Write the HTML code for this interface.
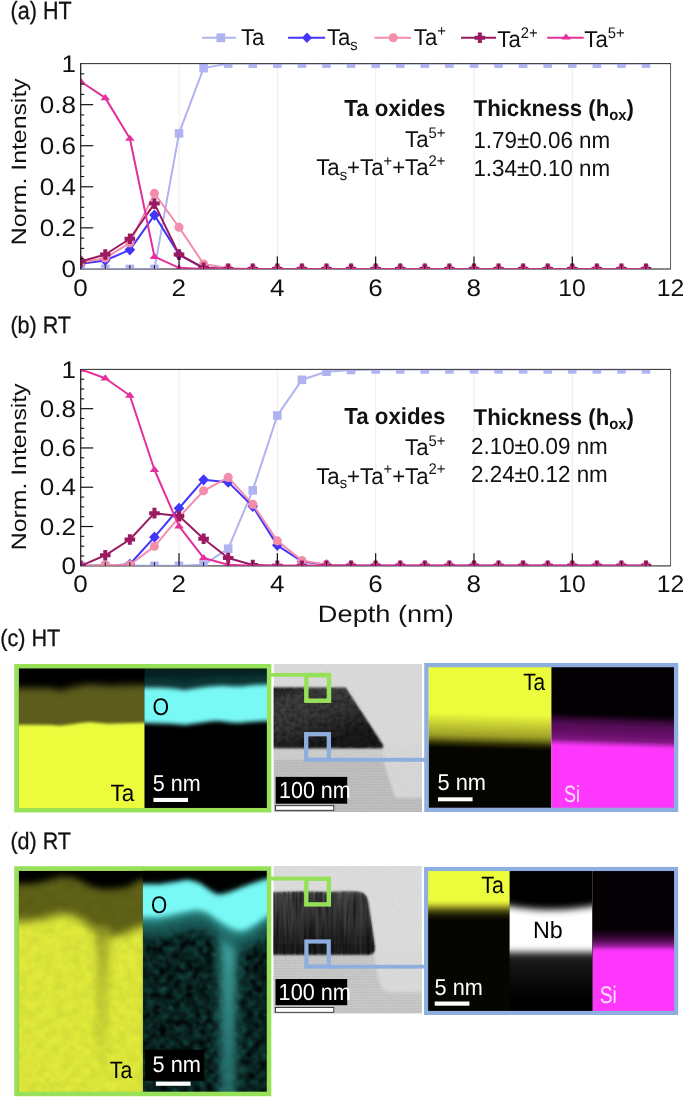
<!DOCTYPE html>
<html><head><meta charset="utf-8"><title>figure</title>
<style>
html,body{margin:0;padding:0;background:#fff;}
body{width:685px;height:1098px;overflow:hidden;}
svg{display:block;font-family:"Liberation Sans", sans-serif;will-change:transform;transform:translateZ(0);}
text{text-rendering:geometricPrecision;}
</style></head><body>
<svg width="685" height="1098" viewBox="0 0 685 1098">
<rect width="685" height="1098" fill="#fff"/>

<defs>
<filter id="b1" x="-60%" y="-60%" width="220%" height="220%"><feGaussianBlur stdDeviation="1.3"/></filter>
<filter id="b2" x="-60%" y="-60%" width="220%" height="220%"><feGaussianBlur stdDeviation="2.2"/></filter>
<filter id="b3" x="-60%" y="-60%" width="220%" height="220%"><feGaussianBlur stdDeviation="3.5"/></filter>
<filter id="b15" x="-60%" y="-60%" width="220%" height="220%"><feGaussianBlur stdDeviation="1.7"/></filter>
<filter id="b5" x="-60%" y="-60%" width="220%" height="220%"><feGaussianBlur stdDeviation="5"/></filter>
<filter id="b25" x="-60%" y="-60%" width="220%" height="220%"><feGaussianBlur stdDeviation="2.8"/></filter>
<filter id="b05" x="-60%" y="-60%" width="220%" height="220%"><feGaussianBlur stdDeviation="0.7"/></filter>
<clipPath id="cL1"><rect x="18.5" y="668.0" width="125.9" height="140.20000000000005"/></clipPath>
<clipPath id="cL2"><rect x="144.4" y="668.0" width="122.70000000000002" height="140.20000000000005"/></clipPath>
<clipPath id="cT1"><rect x="273.6" y="664.0" width="148.39999999999998" height="148.14999999999998"/></clipPath>
<filter id="nz1" x="0" y="0" width="100%" height="100%"><feTurbulence type="fractalNoise" baseFrequency="0.9" numOctaves="2" seed="3"/><feColorMatrix type="matrix" values="0 0 0 0 0  0 0 0 0 0  0 0 0 0 0  0.9 0 0 0 -0.3"/></filter>
<filter id="nz2" x="0" y="0" width="100%" height="100%"><feTurbulence type="fractalNoise" baseFrequency="0.22" numOctaves="3" seed="8"/><feColorMatrix type="matrix" values="0 0 0 0 0  0 0 0 0 0  0 0 0 0 0  1.6 0 0 0 -0.55"/><feComposite operator="in" in2="SourceGraphic"/></filter>
<pattern id="hl" width="4" height="1.6" patternUnits="userSpaceOnUse"><rect width="4" height="0.6" fill="#000" opacity="0.055"/></pattern>
<linearGradient id="gF1" gradientUnits="userSpaceOnUse" x1="300" y1="687" x2="320" y2="748"><stop offset="0" stop-color="#2c2c2c"/><stop offset="0.12" stop-color="#444"/><stop offset="0.5" stop-color="#3a3a3a"/><stop offset="0.8" stop-color="#262626"/><stop offset="1" stop-color="#1a1a1a"/></linearGradient>
<linearGradient id="gTa1" gradientUnits="userSpaceOnUse" x1="490.5" y1="714" x2="489.6" y2="750"><stop offset="0" stop-color="#ecfc3c"/><stop offset="0.17" stop-color="#d8e237"/><stop offset="0.33" stop-color="#c2c931"/><stop offset="0.47" stop-color="#b2b62c"/><stop offset="0.61" stop-color="#9c9e26"/><stop offset="0.72" stop-color="#6e7018"/><stop offset="0.83" stop-color="#343408"/><stop offset="0.94" stop-color="#0c0c00"/><stop offset="1" stop-color="#040400"/></linearGradient>
<linearGradient id="gSi1" gradientUnits="userSpaceOnUse" x1="612.6" y1="714" x2="611.5" y2="748"><stop offset="0" stop-color="#020002"/><stop offset="0.1" stop-color="#180318"/><stop offset="0.22" stop-color="#3c083e"/><stop offset="0.35" stop-color="#540c56"/><stop offset="0.6" stop-color="#660f68"/><stop offset="0.78" stop-color="#7e187f"/><stop offset="0.88" stop-color="#c42ac6"/><stop offset="0.96" stop-color="#f434f2"/><stop offset="1" stop-color="#ff36fb"/></linearGradient>
<clipPath id="dL1"><rect x="18.5" y="870.6" width="124.4" height="221.60000000000002"/></clipPath>
<clipPath id="dL2"><rect x="142.9" y="870.6" width="124.20000000000002" height="221.60000000000002"/></clipPath>
<filter id="nzY" x="0" y="0" width="100%" height="100%"><feTurbulence type="fractalNoise" baseFrequency="0.11" numOctaves="2" seed="11"/><feColorMatrix type="matrix" values="0 0 0 0 0  0 0 0 0 0  0 0 0 0 0  1.0 0 0 0 -0.3"/><feComposite operator="in" in2="SourceGraphic"/></filter>
<filter id="nzC" x="0" y="0" width="100%" height="100%"><feTurbulence type="fractalNoise" baseFrequency="0.15" numOctaves="3" seed="21"/><feColorMatrix type="matrix" values="0 0 0 0 0  0 0 0 0 0  0 0 0 0 0  1.5 0 0 0 -0.16"/><feGaussianBlur stdDeviation="0.9"/><feComposite operator="in" in2="SourceGraphic"/></filter>
<linearGradient id="gStk" gradientUnits="userSpaceOnUse" x1="0" y1="925" x2="0" y2="1080"><stop offset="0" stop-color="#8d9224" stop-opacity="0.85"/><stop offset="0.25" stop-color="#a8ae2a" stop-opacity="0.7"/><stop offset="0.7" stop-color="#b8c02e" stop-opacity="0.5"/><stop offset="1" stop-color="#bcc430" stop-opacity="0"/></linearGradient>
<linearGradient id="gCs" gradientUnits="userSpaceOnUse" x1="0" y1="925" x2="0" y2="1090"><stop offset="0" stop-color="#4ab8b4" stop-opacity="0.95"/><stop offset="0.25" stop-color="#3a9c98" stop-opacity="0.9"/><stop offset="1" stop-color="#2b7a78" stop-opacity="0.7"/></linearGradient>
<clipPath id="dT1"><rect x="273.4" y="865.9" width="148.5" height="147.70000000000005"/></clipPath>
<filter id="nzV" x="0" y="0" width="100%" height="100%"><feTurbulence type="fractalNoise" baseFrequency="0.35 0.02" numOctaves="2" seed="5"/><feColorMatrix type="matrix" values="0 0 0 0 1  0 0 0 0 1  0 0 0 0 1  1.8 0 0 0 -0.75"/><feComposite operator="in" in2="SourceGraphic"/></filter>
<linearGradient id="gF2" gradientUnits="userSpaceOnUse" x1="0" y1="891" x2="0" y2="955"><stop offset="0" stop-color="#505050"/><stop offset="0.1" stop-color="#444"/><stop offset="0.45" stop-color="#343434"/><stop offset="0.75" stop-color="#222"/><stop offset="1" stop-color="#1a1a1a"/></linearGradient>
<filter id="nzV2" x="0" y="0" width="100%" height="100%"><feTurbulence type="fractalNoise" baseFrequency="0.3 0.025" numOctaves="2" seed="9"/><feColorMatrix type="matrix" values="0 0 0 0 0  0 0 0 0 0  0 0 0 0 0  2.2 0 0 0 -0.85"/><feComposite operator="in" in2="SourceGraphic"/></filter>
<linearGradient id="gTa2" gradientUnits="userSpaceOnUse" x1="0" y1="900" x2="0" y2="920"><stop offset="0" stop-color="#ecfc3c"/><stop offset="0.15" stop-color="#dde438"/><stop offset="0.35" stop-color="#9a9c26"/><stop offset="0.55" stop-color="#505010"/><stop offset="0.78" stop-color="#1a1a04"/><stop offset="1" stop-color="#060600"/></linearGradient>
<linearGradient id="gSi2" gradientUnits="userSpaceOnUse" x1="0" y1="929" x2="0" y2="952"><stop offset="0" stop-color="#040004"/><stop offset="0.2" stop-color="#1c031c"/><stop offset="0.42" stop-color="#42093f"/><stop offset="0.62" stop-color="#6e1470"/><stop offset="0.78" stop-color="#a822aa"/><stop offset="0.9" stop-color="#e832ea"/><stop offset="1" stop-color="#ff36fb"/></linearGradient>
<clipPath id="dR2"><rect x="509.6" y="870.8" width="82.79999999999995" height="140.4000000000001"/></clipPath>
<linearGradient id="gNbf" gradientUnits="userSpaceOnUse" x1="0" y1="950" x2="0" y2="1000"><stop offset="0" stop-color="#2c2c2c"/><stop offset="0.25" stop-color="#171717"/><stop offset="0.6" stop-color="#0b0b0b"/><stop offset="1" stop-color="#000"/></linearGradient>
</defs>
<g id="plot1">
<line x1="179.02" y1="63.6" x2="179.02" y2="268.9" stroke="#e6e6e6" stroke-width="0.8"/>
<line x1="277.33" y1="63.6" x2="277.33" y2="268.9" stroke="#e6e6e6" stroke-width="0.8"/>
<line x1="375.65" y1="63.6" x2="375.65" y2="268.9" stroke="#e6e6e6" stroke-width="0.8"/>
<line x1="473.97" y1="63.6" x2="473.97" y2="268.9" stroke="#e6e6e6" stroke-width="0.8"/>
<line x1="572.28" y1="63.6" x2="572.28" y2="268.9" stroke="#e6e6e6" stroke-width="0.8"/>
<rect x="80.7" y="63.6" width="589.90" height="205.30" fill="none" stroke="#4a4a4a" stroke-width="0.9"/>
<clipPath id="cp1"><rect x="80.7" y="63.6" width="589.90" height="205.45"/></clipPath>
<g clip-path="url(#cp1)">
<polyline points="80.70,268.90 105.28,268.90 129.86,268.90 154.44,268.90 179.02,133.40 203.60,68.12 228.18,63.60 252.75,63.60 277.33,63.60 301.91,63.60 326.49,63.60 351.07,63.60 375.65,63.60 400.23,63.60 424.81,63.60 449.39,63.60 473.97,63.60 498.55,63.60 523.12,63.60 547.70,63.60 572.28,63.60 596.86,63.60 621.44,63.60 646.02,63.60" fill="none" stroke="#b0b3f1" stroke-width="2" stroke-linejoin="round"/>
<rect x="76.40" y="264.60" width="8.60" height="8.60" fill="#b0b3f1"/>
<rect x="100.98" y="264.60" width="8.60" height="8.60" fill="#b0b3f1"/>
<rect x="125.56" y="264.60" width="8.60" height="8.60" fill="#b0b3f1"/>
<rect x="150.14" y="264.60" width="8.60" height="8.60" fill="#b0b3f1"/>
<rect x="174.72" y="129.10" width="8.60" height="8.60" fill="#b0b3f1"/>
<rect x="199.30" y="63.82" width="8.60" height="8.60" fill="#b0b3f1"/>
<rect x="223.88" y="59.30" width="8.60" height="8.60" fill="#b0b3f1"/>
<rect x="248.45" y="59.30" width="8.60" height="8.60" fill="#b0b3f1"/>
<rect x="273.03" y="59.30" width="8.60" height="8.60" fill="#b0b3f1"/>
<rect x="297.61" y="59.30" width="8.60" height="8.60" fill="#b0b3f1"/>
<rect x="322.19" y="59.30" width="8.60" height="8.60" fill="#b0b3f1"/>
<rect x="346.77" y="59.30" width="8.60" height="8.60" fill="#b0b3f1"/>
<rect x="371.35" y="59.30" width="8.60" height="8.60" fill="#b0b3f1"/>
<rect x="395.93" y="59.30" width="8.60" height="8.60" fill="#b0b3f1"/>
<rect x="420.51" y="59.30" width="8.60" height="8.60" fill="#b0b3f1"/>
<rect x="445.09" y="59.30" width="8.60" height="8.60" fill="#b0b3f1"/>
<rect x="469.67" y="59.30" width="8.60" height="8.60" fill="#b0b3f1"/>
<rect x="494.25" y="59.30" width="8.60" height="8.60" fill="#b0b3f1"/>
<rect x="518.83" y="59.30" width="8.60" height="8.60" fill="#b0b3f1"/>
<rect x="543.40" y="59.30" width="8.60" height="8.60" fill="#b0b3f1"/>
<rect x="567.98" y="59.30" width="8.60" height="8.60" fill="#b0b3f1"/>
<rect x="592.56" y="59.30" width="8.60" height="8.60" fill="#b0b3f1"/>
<rect x="617.14" y="59.30" width="8.60" height="8.60" fill="#b0b3f1"/>
<rect x="641.72" y="59.30" width="8.60" height="8.60" fill="#b0b3f1"/>
<polyline points="80.70,263.77 105.28,260.48 129.86,249.81 154.44,215.11 179.02,254.53 203.60,268.08 228.18,268.90 252.75,268.90 277.33,268.90 301.91,268.90 326.49,268.90 351.07,268.90 375.65,268.90 400.23,268.90 424.81,268.90 449.39,268.90 473.97,268.90 498.55,268.90 523.12,268.90 547.70,268.90 572.28,268.90 596.86,268.90 621.44,268.90 646.02,268.90" fill="none" stroke="#4236fa" stroke-width="2" stroke-linejoin="round"/>
<path d="M75.40,263.77 L80.70,258.17 L86.00,263.77 L80.70,269.37Z" fill="#4236fa"/>
<path d="M99.98,260.48 L105.28,254.88 L110.58,260.48 L105.28,266.08Z" fill="#4236fa"/>
<path d="M124.56,249.81 L129.86,244.21 L135.16,249.81 L129.86,255.41Z" fill="#4236fa"/>
<path d="M149.14,215.11 L154.44,209.51 L159.74,215.11 L154.44,220.71Z" fill="#4236fa"/>
<path d="M173.72,254.53 L179.02,248.93 L184.32,254.53 L179.02,260.13Z" fill="#4236fa"/>
<path d="M198.30,268.08 L203.60,262.48 L208.90,268.08 L203.60,273.68Z" fill="#4236fa"/>
<path d="M222.88,268.90 L228.18,263.30 L233.48,268.90 L228.18,274.50Z" fill="#4236fa"/>
<path d="M247.45,268.90 L252.75,263.30 L258.05,268.90 L252.75,274.50Z" fill="#4236fa"/>
<path d="M272.03,268.90 L277.33,263.30 L282.63,268.90 L277.33,274.50Z" fill="#4236fa"/>
<path d="M296.61,268.90 L301.91,263.30 L307.21,268.90 L301.91,274.50Z" fill="#4236fa"/>
<path d="M321.19,268.90 L326.49,263.30 L331.79,268.90 L326.49,274.50Z" fill="#4236fa"/>
<path d="M345.77,268.90 L351.07,263.30 L356.37,268.90 L351.07,274.50Z" fill="#4236fa"/>
<path d="M370.35,268.90 L375.65,263.30 L380.95,268.90 L375.65,274.50Z" fill="#4236fa"/>
<path d="M394.93,268.90 L400.23,263.30 L405.53,268.90 L400.23,274.50Z" fill="#4236fa"/>
<path d="M419.51,268.90 L424.81,263.30 L430.11,268.90 L424.81,274.50Z" fill="#4236fa"/>
<path d="M444.09,268.90 L449.39,263.30 L454.69,268.90 L449.39,274.50Z" fill="#4236fa"/>
<path d="M468.67,268.90 L473.97,263.30 L479.27,268.90 L473.97,274.50Z" fill="#4236fa"/>
<path d="M493.25,268.90 L498.55,263.30 L503.85,268.90 L498.55,274.50Z" fill="#4236fa"/>
<path d="M517.83,268.90 L523.12,263.30 L528.42,268.90 L523.12,274.50Z" fill="#4236fa"/>
<path d="M542.40,268.90 L547.70,263.30 L553.00,268.90 L547.70,274.50Z" fill="#4236fa"/>
<path d="M566.98,268.90 L572.28,263.30 L577.58,268.90 L572.28,274.50Z" fill="#4236fa"/>
<path d="M591.56,268.90 L596.86,263.30 L602.16,268.90 L596.86,274.50Z" fill="#4236fa"/>
<path d="M616.14,268.90 L621.44,263.30 L626.74,268.90 L621.44,274.50Z" fill="#4236fa"/>
<path d="M640.72,268.90 L646.02,263.30 L651.32,268.90 L646.02,274.50Z" fill="#4236fa"/>
<polyline points="80.70,262.74 105.28,258.02 129.86,242.83 154.44,193.35 179.02,227.22 203.60,263.97 228.18,268.28 252.75,268.90 277.33,268.90 301.91,268.90 326.49,268.90 351.07,268.90 375.65,268.90 400.23,268.90 424.81,268.90 449.39,268.90 473.97,268.90 498.55,268.90 523.12,268.90 547.70,268.90 572.28,268.90 596.86,268.90 621.44,268.90 646.02,268.90" fill="none" stroke="#f28dab" stroke-width="2" stroke-linejoin="round"/>
<circle cx="80.70" cy="262.74" r="4.55" fill="#f28dab"/>
<circle cx="105.28" cy="258.02" r="4.55" fill="#f28dab"/>
<circle cx="129.86" cy="242.83" r="4.55" fill="#f28dab"/>
<circle cx="154.44" cy="193.35" r="4.55" fill="#f28dab"/>
<circle cx="179.02" cy="227.22" r="4.55" fill="#f28dab"/>
<circle cx="203.60" cy="263.97" r="4.55" fill="#f28dab"/>
<circle cx="228.18" cy="268.28" r="4.55" fill="#f28dab"/>
<circle cx="252.75" cy="268.90" r="4.55" fill="#f28dab"/>
<circle cx="277.33" cy="268.90" r="4.55" fill="#f28dab"/>
<circle cx="301.91" cy="268.90" r="4.55" fill="#f28dab"/>
<circle cx="326.49" cy="268.90" r="4.55" fill="#f28dab"/>
<circle cx="351.07" cy="268.90" r="4.55" fill="#f28dab"/>
<circle cx="375.65" cy="268.90" r="4.55" fill="#f28dab"/>
<circle cx="400.23" cy="268.90" r="4.55" fill="#f28dab"/>
<circle cx="424.81" cy="268.90" r="4.55" fill="#f28dab"/>
<circle cx="449.39" cy="268.90" r="4.55" fill="#f28dab"/>
<circle cx="473.97" cy="268.90" r="4.55" fill="#f28dab"/>
<circle cx="498.55" cy="268.90" r="4.55" fill="#f28dab"/>
<circle cx="523.12" cy="268.90" r="4.55" fill="#f28dab"/>
<circle cx="547.70" cy="268.90" r="4.55" fill="#f28dab"/>
<circle cx="572.28" cy="268.90" r="4.55" fill="#f28dab"/>
<circle cx="596.86" cy="268.90" r="4.55" fill="#f28dab"/>
<circle cx="621.44" cy="268.90" r="4.55" fill="#f28dab"/>
<circle cx="646.02" cy="268.90" r="4.55" fill="#f28dab"/>
<polyline points="80.70,261.51 105.28,254.53 129.86,238.72 154.44,203.61 179.02,254.53 203.60,267.87 228.18,268.90 252.75,268.90 277.33,268.90 301.91,268.90 326.49,268.90 351.07,268.90 375.65,268.90 400.23,268.90 424.81,268.90 449.39,268.90 473.97,268.90 498.55,268.90 523.12,268.90 547.70,268.90 572.28,268.90 596.86,268.90 621.44,268.90 646.02,268.90" fill="none" stroke="#9a1b62" stroke-width="2" stroke-linejoin="round"/>
<path d="M78.70,256.21h4.00v3.30h3.30v4.00h-3.30v3.30h-4.00v-3.30h-3.30v-4.00h3.30z" fill="#9a1b62"/>
<path d="M103.28,249.23h4.00v3.30h3.30v4.00h-3.30v3.30h-4.00v-3.30h-3.30v-4.00h3.30z" fill="#9a1b62"/>
<path d="M127.86,233.42h4.00v3.30h3.30v4.00h-3.30v3.30h-4.00v-3.30h-3.30v-4.00h3.30z" fill="#9a1b62"/>
<path d="M152.44,198.31h4.00v3.30h3.30v4.00h-3.30v3.30h-4.00v-3.30h-3.30v-4.00h3.30z" fill="#9a1b62"/>
<path d="M177.02,249.23h4.00v3.30h3.30v4.00h-3.30v3.30h-4.00v-3.30h-3.30v-4.00h3.30z" fill="#9a1b62"/>
<path d="M201.60,262.57h4.00v3.30h3.30v4.00h-3.30v3.30h-4.00v-3.30h-3.30v-4.00h3.30z" fill="#9a1b62"/>
<path d="M226.18,263.60h4.00v3.30h3.30v4.00h-3.30v3.30h-4.00v-3.30h-3.30v-4.00h3.30z" fill="#9a1b62"/>
<path d="M250.75,263.60h4.00v3.30h3.30v4.00h-3.30v3.30h-4.00v-3.30h-3.30v-4.00h3.30z" fill="#9a1b62"/>
<path d="M275.33,263.60h4.00v3.30h3.30v4.00h-3.30v3.30h-4.00v-3.30h-3.30v-4.00h3.30z" fill="#9a1b62"/>
<path d="M299.91,263.60h4.00v3.30h3.30v4.00h-3.30v3.30h-4.00v-3.30h-3.30v-4.00h3.30z" fill="#9a1b62"/>
<path d="M324.49,263.60h4.00v3.30h3.30v4.00h-3.30v3.30h-4.00v-3.30h-3.30v-4.00h3.30z" fill="#9a1b62"/>
<path d="M349.07,263.60h4.00v3.30h3.30v4.00h-3.30v3.30h-4.00v-3.30h-3.30v-4.00h3.30z" fill="#9a1b62"/>
<path d="M373.65,263.60h4.00v3.30h3.30v4.00h-3.30v3.30h-4.00v-3.30h-3.30v-4.00h3.30z" fill="#9a1b62"/>
<path d="M398.23,263.60h4.00v3.30h3.30v4.00h-3.30v3.30h-4.00v-3.30h-3.30v-4.00h3.30z" fill="#9a1b62"/>
<path d="M422.81,263.60h4.00v3.30h3.30v4.00h-3.30v3.30h-4.00v-3.30h-3.30v-4.00h3.30z" fill="#9a1b62"/>
<path d="M447.39,263.60h4.00v3.30h3.30v4.00h-3.30v3.30h-4.00v-3.30h-3.30v-4.00h3.30z" fill="#9a1b62"/>
<path d="M471.97,263.60h4.00v3.30h3.30v4.00h-3.30v3.30h-4.00v-3.30h-3.30v-4.00h3.30z" fill="#9a1b62"/>
<path d="M496.55,263.60h4.00v3.30h3.30v4.00h-3.30v3.30h-4.00v-3.30h-3.30v-4.00h3.30z" fill="#9a1b62"/>
<path d="M521.12,263.60h4.00v3.30h3.30v4.00h-3.30v3.30h-4.00v-3.30h-3.30v-4.00h3.30z" fill="#9a1b62"/>
<path d="M545.70,263.60h4.00v3.30h3.30v4.00h-3.30v3.30h-4.00v-3.30h-3.30v-4.00h3.30z" fill="#9a1b62"/>
<path d="M570.28,263.60h4.00v3.30h3.30v4.00h-3.30v3.30h-4.00v-3.30h-3.30v-4.00h3.30z" fill="#9a1b62"/>
<path d="M594.86,263.60h4.00v3.30h3.30v4.00h-3.30v3.30h-4.00v-3.30h-3.30v-4.00h3.30z" fill="#9a1b62"/>
<path d="M619.44,263.60h4.00v3.30h3.30v4.00h-3.30v3.30h-4.00v-3.30h-3.30v-4.00h3.30z" fill="#9a1b62"/>
<path d="M644.02,263.60h4.00v3.30h3.30v4.00h-3.30v3.30h-4.00v-3.30h-3.30v-4.00h3.30z" fill="#9a1b62"/>
<polyline points="80.70,81.46 105.28,97.89 129.86,138.53 154.44,256.58 179.02,267.87 203.60,268.90 228.18,268.90 252.75,268.90 277.33,268.90 301.91,268.90 326.49,268.90 351.07,268.90 375.65,268.90 400.23,268.90 424.81,268.90 449.39,268.90 473.97,268.90 498.55,268.90 523.12,268.90 547.70,268.90 572.28,268.90 596.86,268.90 621.44,268.90 646.02,268.90" fill="none" stroke="#e3309c" stroke-width="2" stroke-linejoin="round"/>
<path d="M75.90,83.76 L80.70,77.56 L85.50,83.76Z" fill="#e3309c"/>
<path d="M100.48,100.19 L105.28,93.99 L110.08,100.19Z" fill="#e3309c"/>
<path d="M125.06,140.83 L129.86,134.63 L134.66,140.83Z" fill="#e3309c"/>
<path d="M149.64,258.88 L154.44,252.68 L159.24,258.88Z" fill="#e3309c"/>
<path d="M174.22,270.17 L179.02,263.97 L183.82,270.17Z" fill="#e3309c"/>
<path d="M198.80,271.20 L203.60,265.00 L208.40,271.20Z" fill="#e3309c"/>
<path d="M223.38,271.20 L228.18,265.00 L232.98,271.20Z" fill="#e3309c"/>
<path d="M247.95,271.20 L252.75,265.00 L257.55,271.20Z" fill="#e3309c"/>
<path d="M272.53,271.20 L277.33,265.00 L282.13,271.20Z" fill="#e3309c"/>
<path d="M297.11,271.20 L301.91,265.00 L306.71,271.20Z" fill="#e3309c"/>
<path d="M321.69,271.20 L326.49,265.00 L331.29,271.20Z" fill="#e3309c"/>
<path d="M346.27,271.20 L351.07,265.00 L355.87,271.20Z" fill="#e3309c"/>
<path d="M370.85,271.20 L375.65,265.00 L380.45,271.20Z" fill="#e3309c"/>
<path d="M395.43,271.20 L400.23,265.00 L405.03,271.20Z" fill="#e3309c"/>
<path d="M420.01,271.20 L424.81,265.00 L429.61,271.20Z" fill="#e3309c"/>
<path d="M444.59,271.20 L449.39,265.00 L454.19,271.20Z" fill="#e3309c"/>
<path d="M469.17,271.20 L473.97,265.00 L478.77,271.20Z" fill="#e3309c"/>
<path d="M493.75,271.20 L498.55,265.00 L503.35,271.20Z" fill="#e3309c"/>
<path d="M518.33,271.20 L523.12,265.00 L527.92,271.20Z" fill="#e3309c"/>
<path d="M542.90,271.20 L547.70,265.00 L552.50,271.20Z" fill="#e3309c"/>
<path d="M567.48,271.20 L572.28,265.00 L577.08,271.20Z" fill="#e3309c"/>
<path d="M592.06,271.20 L596.86,265.00 L601.66,271.20Z" fill="#e3309c"/>
<path d="M616.64,271.20 L621.44,265.00 L626.24,271.20Z" fill="#e3309c"/>
<path d="M641.22,271.20 L646.02,265.00 L650.82,271.20Z" fill="#e3309c"/>
</g>
<line x1="80.7" y1="269.2" x2="670.6" y2="269.2" stroke="#505050" stroke-width="0.7"/>
<line x1="80.7" y1="63.6" x2="670.6" y2="63.6" stroke="#3c3c3c" stroke-width="0.95"/>
<line x1="80.7" y1="63.1" x2="80.7" y2="269.4" stroke="#222" stroke-width="1.1"/>
<line x1="80.7" y1="258.63" x2="84.2" y2="258.63" stroke="#111" stroke-width="1.1"/>
<line x1="80.7" y1="248.37" x2="84.2" y2="248.37" stroke="#111" stroke-width="1.1"/>
<line x1="80.7" y1="238.10" x2="84.2" y2="238.10" stroke="#111" stroke-width="1.1"/>
<line x1="80.7" y1="227.84" x2="93.2" y2="227.84" stroke="#111" stroke-width="1.2"/>
<line x1="80.7" y1="217.57" x2="84.2" y2="217.57" stroke="#111" stroke-width="1.1"/>
<line x1="80.7" y1="207.31" x2="84.2" y2="207.31" stroke="#111" stroke-width="1.1"/>
<line x1="80.7" y1="197.04" x2="84.2" y2="197.04" stroke="#111" stroke-width="1.1"/>
<line x1="80.7" y1="186.78" x2="93.2" y2="186.78" stroke="#111" stroke-width="1.2"/>
<line x1="80.7" y1="176.51" x2="84.2" y2="176.51" stroke="#111" stroke-width="1.1"/>
<line x1="80.7" y1="166.25" x2="84.2" y2="166.25" stroke="#111" stroke-width="1.1"/>
<line x1="80.7" y1="155.98" x2="84.2" y2="155.98" stroke="#111" stroke-width="1.1"/>
<line x1="80.7" y1="145.72" x2="93.2" y2="145.72" stroke="#111" stroke-width="1.2"/>
<line x1="80.7" y1="135.45" x2="84.2" y2="135.45" stroke="#111" stroke-width="1.1"/>
<line x1="80.7" y1="125.19" x2="84.2" y2="125.19" stroke="#111" stroke-width="1.1"/>
<line x1="80.7" y1="114.92" x2="84.2" y2="114.92" stroke="#111" stroke-width="1.1"/>
<line x1="80.7" y1="104.66" x2="93.2" y2="104.66" stroke="#111" stroke-width="1.2"/>
<line x1="80.7" y1="94.39" x2="84.2" y2="94.39" stroke="#111" stroke-width="1.1"/>
<line x1="80.7" y1="84.13" x2="84.2" y2="84.13" stroke="#111" stroke-width="1.1"/>
<line x1="80.7" y1="73.86" x2="84.2" y2="73.86" stroke="#111" stroke-width="1.1"/>
<line x1="105.28" y1="268.9" x2="105.28" y2="265.29999999999995" stroke="#111" stroke-width="1.0"/>
<line x1="129.86" y1="268.9" x2="129.86" y2="265.29999999999995" stroke="#111" stroke-width="1.0"/>
<line x1="154.44" y1="268.9" x2="154.44" y2="265.29999999999995" stroke="#111" stroke-width="1.0"/>
<line x1="179.02" y1="268.9" x2="179.02" y2="256.4" stroke="#111" stroke-width="1.2"/>
<line x1="203.60" y1="268.9" x2="203.60" y2="265.29999999999995" stroke="#111" stroke-width="1.0"/>
<line x1="228.18" y1="268.9" x2="228.18" y2="265.29999999999995" stroke="#111" stroke-width="1.0"/>
<line x1="252.75" y1="268.9" x2="252.75" y2="265.29999999999995" stroke="#111" stroke-width="1.0"/>
<line x1="277.33" y1="268.9" x2="277.33" y2="256.4" stroke="#111" stroke-width="1.2"/>
<line x1="301.91" y1="268.9" x2="301.91" y2="265.29999999999995" stroke="#111" stroke-width="1.0"/>
<line x1="326.49" y1="268.9" x2="326.49" y2="265.29999999999995" stroke="#111" stroke-width="1.0"/>
<line x1="351.07" y1="268.9" x2="351.07" y2="265.29999999999995" stroke="#111" stroke-width="1.0"/>
<line x1="375.65" y1="268.9" x2="375.65" y2="256.4" stroke="#111" stroke-width="1.2"/>
<line x1="400.23" y1="268.9" x2="400.23" y2="265.29999999999995" stroke="#111" stroke-width="1.0"/>
<line x1="424.81" y1="268.9" x2="424.81" y2="265.29999999999995" stroke="#111" stroke-width="1.0"/>
<line x1="449.39" y1="268.9" x2="449.39" y2="265.29999999999995" stroke="#111" stroke-width="1.0"/>
<line x1="473.97" y1="268.9" x2="473.97" y2="256.4" stroke="#111" stroke-width="1.2"/>
<line x1="498.55" y1="268.9" x2="498.55" y2="265.29999999999995" stroke="#111" stroke-width="1.0"/>
<line x1="523.12" y1="268.9" x2="523.12" y2="265.29999999999995" stroke="#111" stroke-width="1.0"/>
<line x1="547.70" y1="268.9" x2="547.70" y2="265.29999999999995" stroke="#111" stroke-width="1.0"/>
<line x1="572.28" y1="268.9" x2="572.28" y2="256.4" stroke="#111" stroke-width="1.2"/>
<line x1="596.86" y1="268.9" x2="596.86" y2="265.29999999999995" stroke="#111" stroke-width="1.0"/>
<line x1="621.44" y1="268.9" x2="621.44" y2="265.29999999999995" stroke="#111" stroke-width="1.0"/>
<line x1="646.02" y1="268.9" x2="646.02" y2="265.29999999999995" stroke="#111" stroke-width="1.0"/>
<text transform="translate(76.00,277.10) scale(1.085,1)" font-size="24.0" text-anchor="end" fill="#111">0</text>
<text transform="translate(76.00,236.04) scale(1.085,1)" font-size="24.0" text-anchor="end" fill="#111">0.2</text>
<text transform="translate(76.00,194.98) scale(1.085,1)" font-size="24.0" text-anchor="end" fill="#111">0.4</text>
<text transform="translate(76.00,153.92) scale(1.085,1)" font-size="24.0" text-anchor="end" fill="#111">0.6</text>
<text transform="translate(76.00,112.86) scale(1.085,1)" font-size="24.0" text-anchor="end" fill="#111">0.8</text>
<text transform="translate(76.00,71.80) scale(1.085,1)" font-size="24.0" text-anchor="end" fill="#111">1</text>
<text transform="translate(80.50,295.50) scale(1.085,1)" font-size="24.0" text-anchor="middle" fill="#111">0</text>
<text transform="translate(178.82,295.50) scale(1.085,1)" font-size="24.0" text-anchor="middle" fill="#111">2</text>
<text transform="translate(277.13,295.50) scale(1.085,1)" font-size="24.0" text-anchor="middle" fill="#111">4</text>
<text transform="translate(375.45,295.50) scale(1.085,1)" font-size="24.0" text-anchor="middle" fill="#111">6</text>
<text transform="translate(473.77,295.50) scale(1.085,1)" font-size="24.0" text-anchor="middle" fill="#111">8</text>
<text transform="translate(572.08,295.50) scale(1.03,1)" font-size="24.0" text-anchor="middle" fill="#111">10</text>
<text transform="translate(670.40,295.50) scale(1.03,1)" font-size="24.0" text-anchor="middle" fill="#111">12</text>
<g transform="translate(26,161.75) rotate(-90)"><text transform="translate(0.00,0.00) scale(1.188,1)" font-size="20.9" text-anchor="middle" fill="#111">Norm. Intensity</text></g>
</g>
<g id="plot2">
<line x1="179.02" y1="369.4" x2="179.02" y2="565.8" stroke="#e6e6e6" stroke-width="0.8"/>
<line x1="277.33" y1="369.4" x2="277.33" y2="565.8" stroke="#e6e6e6" stroke-width="0.8"/>
<line x1="375.65" y1="369.4" x2="375.65" y2="565.8" stroke="#e6e6e6" stroke-width="0.8"/>
<line x1="473.97" y1="369.4" x2="473.97" y2="565.8" stroke="#e6e6e6" stroke-width="0.8"/>
<line x1="572.28" y1="369.4" x2="572.28" y2="565.8" stroke="#e6e6e6" stroke-width="0.8"/>
<rect x="80.7" y="369.4" width="589.90" height="196.40" fill="none" stroke="#4a4a4a" stroke-width="0.9"/>
<clipPath id="cp2"><rect x="80.7" y="369.4" width="589.90" height="196.55"/></clipPath>
<g clip-path="url(#cp2)">
<polyline points="80.70,565.80 105.28,565.80 129.86,565.80 154.44,565.80 179.02,565.80 203.60,564.82 228.18,548.71 252.75,490.38 277.33,415.55 301.91,379.81 326.49,371.76 351.07,369.99 375.65,369.40 400.23,369.40 424.81,369.40 449.39,369.40 473.97,369.40 498.55,369.40 523.12,369.40 547.70,369.40 572.28,369.40 596.86,369.40 621.44,369.40 646.02,369.40" fill="none" stroke="#b0b3f1" stroke-width="2" stroke-linejoin="round"/>
<rect x="76.40" y="561.50" width="8.60" height="8.60" fill="#b0b3f1"/>
<rect x="100.98" y="561.50" width="8.60" height="8.60" fill="#b0b3f1"/>
<rect x="125.56" y="561.50" width="8.60" height="8.60" fill="#b0b3f1"/>
<rect x="150.14" y="561.50" width="8.60" height="8.60" fill="#b0b3f1"/>
<rect x="174.72" y="561.50" width="8.60" height="8.60" fill="#b0b3f1"/>
<rect x="199.30" y="560.52" width="8.60" height="8.60" fill="#b0b3f1"/>
<rect x="223.88" y="544.41" width="8.60" height="8.60" fill="#b0b3f1"/>
<rect x="248.45" y="486.08" width="8.60" height="8.60" fill="#b0b3f1"/>
<rect x="273.03" y="411.25" width="8.60" height="8.60" fill="#b0b3f1"/>
<rect x="297.61" y="375.51" width="8.60" height="8.60" fill="#b0b3f1"/>
<rect x="322.19" y="367.46" width="8.60" height="8.60" fill="#b0b3f1"/>
<rect x="346.77" y="365.69" width="8.60" height="8.60" fill="#b0b3f1"/>
<rect x="371.35" y="365.10" width="8.60" height="8.60" fill="#b0b3f1"/>
<rect x="395.93" y="365.10" width="8.60" height="8.60" fill="#b0b3f1"/>
<rect x="420.51" y="365.10" width="8.60" height="8.60" fill="#b0b3f1"/>
<rect x="445.09" y="365.10" width="8.60" height="8.60" fill="#b0b3f1"/>
<rect x="469.67" y="365.10" width="8.60" height="8.60" fill="#b0b3f1"/>
<rect x="494.25" y="365.10" width="8.60" height="8.60" fill="#b0b3f1"/>
<rect x="518.83" y="365.10" width="8.60" height="8.60" fill="#b0b3f1"/>
<rect x="543.40" y="365.10" width="8.60" height="8.60" fill="#b0b3f1"/>
<rect x="567.98" y="365.10" width="8.60" height="8.60" fill="#b0b3f1"/>
<rect x="592.56" y="365.10" width="8.60" height="8.60" fill="#b0b3f1"/>
<rect x="617.14" y="365.10" width="8.60" height="8.60" fill="#b0b3f1"/>
<rect x="641.72" y="365.10" width="8.60" height="8.60" fill="#b0b3f1"/>
<polyline points="80.70,565.80 105.28,565.80 129.86,564.23 154.44,537.13 179.02,508.25 203.60,479.78 228.18,482.13 252.75,506.29 277.33,545.37 301.91,561.48 326.49,564.82 351.07,565.80 375.65,565.80 400.23,565.80 424.81,565.80 449.39,565.80 473.97,565.80 498.55,565.80 523.12,565.80 547.70,565.80 572.28,565.80 596.86,565.80 621.44,565.80 646.02,565.80" fill="none" stroke="#4236fa" stroke-width="2" stroke-linejoin="round"/>
<path d="M75.40,565.80 L80.70,560.20 L86.00,565.80 L80.70,571.40Z" fill="#4236fa"/>
<path d="M99.98,565.80 L105.28,560.20 L110.58,565.80 L105.28,571.40Z" fill="#4236fa"/>
<path d="M124.56,564.23 L129.86,558.63 L135.16,564.23 L129.86,569.83Z" fill="#4236fa"/>
<path d="M149.14,537.13 L154.44,531.53 L159.74,537.13 L154.44,542.73Z" fill="#4236fa"/>
<path d="M173.72,508.25 L179.02,502.65 L184.32,508.25 L179.02,513.85Z" fill="#4236fa"/>
<path d="M198.30,479.78 L203.60,474.18 L208.90,479.78 L203.60,485.38Z" fill="#4236fa"/>
<path d="M222.88,482.13 L228.18,476.53 L233.48,482.13 L228.18,487.73Z" fill="#4236fa"/>
<path d="M247.45,506.29 L252.75,500.69 L258.05,506.29 L252.75,511.89Z" fill="#4236fa"/>
<path d="M272.03,545.37 L277.33,539.77 L282.63,545.37 L277.33,550.97Z" fill="#4236fa"/>
<path d="M296.61,561.48 L301.91,555.88 L307.21,561.48 L301.91,567.08Z" fill="#4236fa"/>
<path d="M321.19,564.82 L326.49,559.22 L331.79,564.82 L326.49,570.42Z" fill="#4236fa"/>
<path d="M345.77,565.80 L351.07,560.20 L356.37,565.80 L351.07,571.40Z" fill="#4236fa"/>
<path d="M370.35,565.80 L375.65,560.20 L380.95,565.80 L375.65,571.40Z" fill="#4236fa"/>
<path d="M394.93,565.80 L400.23,560.20 L405.53,565.80 L400.23,571.40Z" fill="#4236fa"/>
<path d="M419.51,565.80 L424.81,560.20 L430.11,565.80 L424.81,571.40Z" fill="#4236fa"/>
<path d="M444.09,565.80 L449.39,560.20 L454.69,565.80 L449.39,571.40Z" fill="#4236fa"/>
<path d="M468.67,565.80 L473.97,560.20 L479.27,565.80 L473.97,571.40Z" fill="#4236fa"/>
<path d="M493.25,565.80 L498.55,560.20 L503.85,565.80 L498.55,571.40Z" fill="#4236fa"/>
<path d="M517.83,565.80 L523.12,560.20 L528.42,565.80 L523.12,571.40Z" fill="#4236fa"/>
<path d="M542.40,565.80 L547.70,560.20 L553.00,565.80 L547.70,571.40Z" fill="#4236fa"/>
<path d="M566.98,565.80 L572.28,560.20 L577.58,565.80 L572.28,571.40Z" fill="#4236fa"/>
<path d="M591.56,565.80 L596.86,560.20 L602.16,565.80 L596.86,571.40Z" fill="#4236fa"/>
<path d="M616.14,565.80 L621.44,560.20 L626.74,565.80 L621.44,571.40Z" fill="#4236fa"/>
<path d="M640.72,565.80 L646.02,560.20 L651.32,565.80 L646.02,571.40Z" fill="#4236fa"/>
<polyline points="80.70,565.80 105.28,565.01 129.86,564.82 154.44,546.36 179.02,517.29 203.60,490.78 228.18,477.42 252.75,504.33 277.33,540.86 301.91,560.50 326.49,564.82 351.07,565.80 375.65,565.80 400.23,565.80 424.81,565.80 449.39,565.80 473.97,565.80 498.55,565.80 523.12,565.80 547.70,565.80 572.28,565.80 596.86,565.80 621.44,565.80 646.02,565.80" fill="none" stroke="#f28dab" stroke-width="2" stroke-linejoin="round"/>
<circle cx="80.70" cy="565.80" r="4.55" fill="#f28dab"/>
<circle cx="105.28" cy="565.01" r="4.55" fill="#f28dab"/>
<circle cx="129.86" cy="564.82" r="4.55" fill="#f28dab"/>
<circle cx="154.44" cy="546.36" r="4.55" fill="#f28dab"/>
<circle cx="179.02" cy="517.29" r="4.55" fill="#f28dab"/>
<circle cx="203.60" cy="490.78" r="4.55" fill="#f28dab"/>
<circle cx="228.18" cy="477.42" r="4.55" fill="#f28dab"/>
<circle cx="252.75" cy="504.33" r="4.55" fill="#f28dab"/>
<circle cx="277.33" cy="540.86" r="4.55" fill="#f28dab"/>
<circle cx="301.91" cy="560.50" r="4.55" fill="#f28dab"/>
<circle cx="326.49" cy="564.82" r="4.55" fill="#f28dab"/>
<circle cx="351.07" cy="565.80" r="4.55" fill="#f28dab"/>
<circle cx="375.65" cy="565.80" r="4.55" fill="#f28dab"/>
<circle cx="400.23" cy="565.80" r="4.55" fill="#f28dab"/>
<circle cx="424.81" cy="565.80" r="4.55" fill="#f28dab"/>
<circle cx="449.39" cy="565.80" r="4.55" fill="#f28dab"/>
<circle cx="473.97" cy="565.80" r="4.55" fill="#f28dab"/>
<circle cx="498.55" cy="565.80" r="4.55" fill="#f28dab"/>
<circle cx="523.12" cy="565.80" r="4.55" fill="#f28dab"/>
<circle cx="547.70" cy="565.80" r="4.55" fill="#f28dab"/>
<circle cx="572.28" cy="565.80" r="4.55" fill="#f28dab"/>
<circle cx="596.86" cy="565.80" r="4.55" fill="#f28dab"/>
<circle cx="621.44" cy="565.80" r="4.55" fill="#f28dab"/>
<circle cx="646.02" cy="565.80" r="4.55" fill="#f28dab"/>
<polyline points="80.70,565.80 105.28,555.29 129.86,539.48 154.44,513.16 179.02,516.11 203.60,538.70 228.18,557.94 252.75,565.01 277.33,565.80 301.91,565.80 326.49,565.80 351.07,565.80 375.65,565.80 400.23,565.80 424.81,565.80 449.39,565.80 473.97,565.80 498.55,565.80 523.12,565.80 547.70,565.80 572.28,565.80 596.86,565.80 621.44,565.80 646.02,565.80" fill="none" stroke="#9a1b62" stroke-width="2" stroke-linejoin="round"/>
<path d="M78.70,560.50h4.00v3.30h3.30v4.00h-3.30v3.30h-4.00v-3.30h-3.30v-4.00h3.30z" fill="#9a1b62"/>
<path d="M103.28,549.99h4.00v3.30h3.30v4.00h-3.30v3.30h-4.00v-3.30h-3.30v-4.00h3.30z" fill="#9a1b62"/>
<path d="M127.86,534.18h4.00v3.30h3.30v4.00h-3.30v3.30h-4.00v-3.30h-3.30v-4.00h3.30z" fill="#9a1b62"/>
<path d="M152.44,507.86h4.00v3.30h3.30v4.00h-3.30v3.30h-4.00v-3.30h-3.30v-4.00h3.30z" fill="#9a1b62"/>
<path d="M177.02,510.81h4.00v3.30h3.30v4.00h-3.30v3.30h-4.00v-3.30h-3.30v-4.00h3.30z" fill="#9a1b62"/>
<path d="M201.60,533.40h4.00v3.30h3.30v4.00h-3.30v3.30h-4.00v-3.30h-3.30v-4.00h3.30z" fill="#9a1b62"/>
<path d="M226.18,552.64h4.00v3.30h3.30v4.00h-3.30v3.30h-4.00v-3.30h-3.30v-4.00h3.30z" fill="#9a1b62"/>
<path d="M250.75,559.71h4.00v3.30h3.30v4.00h-3.30v3.30h-4.00v-3.30h-3.30v-4.00h3.30z" fill="#9a1b62"/>
<path d="M275.33,560.50h4.00v3.30h3.30v4.00h-3.30v3.30h-4.00v-3.30h-3.30v-4.00h3.30z" fill="#9a1b62"/>
<path d="M299.91,560.50h4.00v3.30h3.30v4.00h-3.30v3.30h-4.00v-3.30h-3.30v-4.00h3.30z" fill="#9a1b62"/>
<path d="M324.49,560.50h4.00v3.30h3.30v4.00h-3.30v3.30h-4.00v-3.30h-3.30v-4.00h3.30z" fill="#9a1b62"/>
<path d="M349.07,560.50h4.00v3.30h3.30v4.00h-3.30v3.30h-4.00v-3.30h-3.30v-4.00h3.30z" fill="#9a1b62"/>
<path d="M373.65,560.50h4.00v3.30h3.30v4.00h-3.30v3.30h-4.00v-3.30h-3.30v-4.00h3.30z" fill="#9a1b62"/>
<path d="M398.23,560.50h4.00v3.30h3.30v4.00h-3.30v3.30h-4.00v-3.30h-3.30v-4.00h3.30z" fill="#9a1b62"/>
<path d="M422.81,560.50h4.00v3.30h3.30v4.00h-3.30v3.30h-4.00v-3.30h-3.30v-4.00h3.30z" fill="#9a1b62"/>
<path d="M447.39,560.50h4.00v3.30h3.30v4.00h-3.30v3.30h-4.00v-3.30h-3.30v-4.00h3.30z" fill="#9a1b62"/>
<path d="M471.97,560.50h4.00v3.30h3.30v4.00h-3.30v3.30h-4.00v-3.30h-3.30v-4.00h3.30z" fill="#9a1b62"/>
<path d="M496.55,560.50h4.00v3.30h3.30v4.00h-3.30v3.30h-4.00v-3.30h-3.30v-4.00h3.30z" fill="#9a1b62"/>
<path d="M521.12,560.50h4.00v3.30h3.30v4.00h-3.30v3.30h-4.00v-3.30h-3.30v-4.00h3.30z" fill="#9a1b62"/>
<path d="M545.70,560.50h4.00v3.30h3.30v4.00h-3.30v3.30h-4.00v-3.30h-3.30v-4.00h3.30z" fill="#9a1b62"/>
<path d="M570.28,560.50h4.00v3.30h3.30v4.00h-3.30v3.30h-4.00v-3.30h-3.30v-4.00h3.30z" fill="#9a1b62"/>
<path d="M594.86,560.50h4.00v3.30h3.30v4.00h-3.30v3.30h-4.00v-3.30h-3.30v-4.00h3.30z" fill="#9a1b62"/>
<path d="M619.44,560.50h4.00v3.30h3.30v4.00h-3.30v3.30h-4.00v-3.30h-3.30v-4.00h3.30z" fill="#9a1b62"/>
<path d="M644.02,560.50h4.00v3.30h3.30v4.00h-3.30v3.30h-4.00v-3.30h-3.30v-4.00h3.30z" fill="#9a1b62"/>
<polyline points="80.70,369.40 105.28,378.24 129.86,395.52 154.44,469.76 179.02,526.13 203.60,557.94 228.18,564.82 252.75,565.80 277.33,565.80 301.91,565.80 326.49,565.80 351.07,565.80 375.65,565.80 400.23,565.80 424.81,565.80 449.39,565.80 473.97,565.80 498.55,565.80 523.12,565.80 547.70,565.80 572.28,565.80 596.86,565.80 621.44,565.80 646.02,565.80" fill="none" stroke="#e3309c" stroke-width="2" stroke-linejoin="round"/>
<path d="M75.90,371.70 L80.70,365.50 L85.50,371.70Z" fill="#e3309c"/>
<path d="M100.48,380.54 L105.28,374.34 L110.08,380.54Z" fill="#e3309c"/>
<path d="M125.06,397.82 L129.86,391.62 L134.66,397.82Z" fill="#e3309c"/>
<path d="M149.64,472.06 L154.44,465.86 L159.24,472.06Z" fill="#e3309c"/>
<path d="M174.22,528.43 L179.02,522.23 L183.82,528.43Z" fill="#e3309c"/>
<path d="M198.80,560.24 L203.60,554.04 L208.40,560.24Z" fill="#e3309c"/>
<path d="M223.38,567.12 L228.18,560.92 L232.98,567.12Z" fill="#e3309c"/>
<path d="M247.95,568.10 L252.75,561.90 L257.55,568.10Z" fill="#e3309c"/>
<path d="M272.53,568.10 L277.33,561.90 L282.13,568.10Z" fill="#e3309c"/>
<path d="M297.11,568.10 L301.91,561.90 L306.71,568.10Z" fill="#e3309c"/>
<path d="M321.69,568.10 L326.49,561.90 L331.29,568.10Z" fill="#e3309c"/>
<path d="M346.27,568.10 L351.07,561.90 L355.87,568.10Z" fill="#e3309c"/>
<path d="M370.85,568.10 L375.65,561.90 L380.45,568.10Z" fill="#e3309c"/>
<path d="M395.43,568.10 L400.23,561.90 L405.03,568.10Z" fill="#e3309c"/>
<path d="M420.01,568.10 L424.81,561.90 L429.61,568.10Z" fill="#e3309c"/>
<path d="M444.59,568.10 L449.39,561.90 L454.19,568.10Z" fill="#e3309c"/>
<path d="M469.17,568.10 L473.97,561.90 L478.77,568.10Z" fill="#e3309c"/>
<path d="M493.75,568.10 L498.55,561.90 L503.35,568.10Z" fill="#e3309c"/>
<path d="M518.33,568.10 L523.12,561.90 L527.92,568.10Z" fill="#e3309c"/>
<path d="M542.90,568.10 L547.70,561.90 L552.50,568.10Z" fill="#e3309c"/>
<path d="M567.48,568.10 L572.28,561.90 L577.08,568.10Z" fill="#e3309c"/>
<path d="M592.06,568.10 L596.86,561.90 L601.66,568.10Z" fill="#e3309c"/>
<path d="M616.64,568.10 L621.44,561.90 L626.24,568.10Z" fill="#e3309c"/>
<path d="M641.22,568.10 L646.02,561.90 L650.82,568.10Z" fill="#e3309c"/>
</g>
<line x1="80.7" y1="566.0999999999999" x2="670.6" y2="566.0999999999999" stroke="#505050" stroke-width="0.7"/>
<line x1="80.7" y1="369.4" x2="670.6" y2="369.4" stroke="#3c3c3c" stroke-width="0.95"/>
<line x1="80.7" y1="368.9" x2="80.7" y2="566.3" stroke="#222" stroke-width="1.1"/>
<line x1="80.7" y1="555.98" x2="84.2" y2="555.98" stroke="#111" stroke-width="1.1"/>
<line x1="80.7" y1="546.16" x2="84.2" y2="546.16" stroke="#111" stroke-width="1.1"/>
<line x1="80.7" y1="536.34" x2="84.2" y2="536.34" stroke="#111" stroke-width="1.1"/>
<line x1="80.7" y1="526.52" x2="93.2" y2="526.52" stroke="#111" stroke-width="1.2"/>
<line x1="80.7" y1="516.70" x2="84.2" y2="516.70" stroke="#111" stroke-width="1.1"/>
<line x1="80.7" y1="506.88" x2="84.2" y2="506.88" stroke="#111" stroke-width="1.1"/>
<line x1="80.7" y1="497.06" x2="84.2" y2="497.06" stroke="#111" stroke-width="1.1"/>
<line x1="80.7" y1="487.24" x2="93.2" y2="487.24" stroke="#111" stroke-width="1.2"/>
<line x1="80.7" y1="477.42" x2="84.2" y2="477.42" stroke="#111" stroke-width="1.1"/>
<line x1="80.7" y1="467.60" x2="84.2" y2="467.60" stroke="#111" stroke-width="1.1"/>
<line x1="80.7" y1="457.78" x2="84.2" y2="457.78" stroke="#111" stroke-width="1.1"/>
<line x1="80.7" y1="447.96" x2="93.2" y2="447.96" stroke="#111" stroke-width="1.2"/>
<line x1="80.7" y1="438.14" x2="84.2" y2="438.14" stroke="#111" stroke-width="1.1"/>
<line x1="80.7" y1="428.32" x2="84.2" y2="428.32" stroke="#111" stroke-width="1.1"/>
<line x1="80.7" y1="418.50" x2="84.2" y2="418.50" stroke="#111" stroke-width="1.1"/>
<line x1="80.7" y1="408.68" x2="93.2" y2="408.68" stroke="#111" stroke-width="1.2"/>
<line x1="80.7" y1="398.86" x2="84.2" y2="398.86" stroke="#111" stroke-width="1.1"/>
<line x1="80.7" y1="389.04" x2="84.2" y2="389.04" stroke="#111" stroke-width="1.1"/>
<line x1="80.7" y1="379.22" x2="84.2" y2="379.22" stroke="#111" stroke-width="1.1"/>
<line x1="105.28" y1="565.8" x2="105.28" y2="562.1999999999999" stroke="#111" stroke-width="1.0"/>
<line x1="129.86" y1="565.8" x2="129.86" y2="562.1999999999999" stroke="#111" stroke-width="1.0"/>
<line x1="154.44" y1="565.8" x2="154.44" y2="562.1999999999999" stroke="#111" stroke-width="1.0"/>
<line x1="179.02" y1="565.8" x2="179.02" y2="553.3" stroke="#111" stroke-width="1.2"/>
<line x1="203.60" y1="565.8" x2="203.60" y2="562.1999999999999" stroke="#111" stroke-width="1.0"/>
<line x1="228.18" y1="565.8" x2="228.18" y2="562.1999999999999" stroke="#111" stroke-width="1.0"/>
<line x1="252.75" y1="565.8" x2="252.75" y2="562.1999999999999" stroke="#111" stroke-width="1.0"/>
<line x1="277.33" y1="565.8" x2="277.33" y2="553.3" stroke="#111" stroke-width="1.2"/>
<line x1="301.91" y1="565.8" x2="301.91" y2="562.1999999999999" stroke="#111" stroke-width="1.0"/>
<line x1="326.49" y1="565.8" x2="326.49" y2="562.1999999999999" stroke="#111" stroke-width="1.0"/>
<line x1="351.07" y1="565.8" x2="351.07" y2="562.1999999999999" stroke="#111" stroke-width="1.0"/>
<line x1="375.65" y1="565.8" x2="375.65" y2="553.3" stroke="#111" stroke-width="1.2"/>
<line x1="400.23" y1="565.8" x2="400.23" y2="562.1999999999999" stroke="#111" stroke-width="1.0"/>
<line x1="424.81" y1="565.8" x2="424.81" y2="562.1999999999999" stroke="#111" stroke-width="1.0"/>
<line x1="449.39" y1="565.8" x2="449.39" y2="562.1999999999999" stroke="#111" stroke-width="1.0"/>
<line x1="473.97" y1="565.8" x2="473.97" y2="553.3" stroke="#111" stroke-width="1.2"/>
<line x1="498.55" y1="565.8" x2="498.55" y2="562.1999999999999" stroke="#111" stroke-width="1.0"/>
<line x1="523.12" y1="565.8" x2="523.12" y2="562.1999999999999" stroke="#111" stroke-width="1.0"/>
<line x1="547.70" y1="565.8" x2="547.70" y2="562.1999999999999" stroke="#111" stroke-width="1.0"/>
<line x1="572.28" y1="565.8" x2="572.28" y2="553.3" stroke="#111" stroke-width="1.2"/>
<line x1="596.86" y1="565.8" x2="596.86" y2="562.1999999999999" stroke="#111" stroke-width="1.0"/>
<line x1="621.44" y1="565.8" x2="621.44" y2="562.1999999999999" stroke="#111" stroke-width="1.0"/>
<line x1="646.02" y1="565.8" x2="646.02" y2="562.1999999999999" stroke="#111" stroke-width="1.0"/>
<text transform="translate(76.00,574.00) scale(1.085,1)" font-size="24.0" text-anchor="end" fill="#111">0</text>
<text transform="translate(76.00,534.72) scale(1.085,1)" font-size="24.0" text-anchor="end" fill="#111">0.2</text>
<text transform="translate(76.00,495.44) scale(1.085,1)" font-size="24.0" text-anchor="end" fill="#111">0.4</text>
<text transform="translate(76.00,456.16) scale(1.085,1)" font-size="24.0" text-anchor="end" fill="#111">0.6</text>
<text transform="translate(76.00,416.88) scale(1.085,1)" font-size="24.0" text-anchor="end" fill="#111">0.8</text>
<text transform="translate(76.00,377.60) scale(1.085,1)" font-size="24.0" text-anchor="end" fill="#111">1</text>
<text transform="translate(80.50,592.40) scale(1.085,1)" font-size="24.0" text-anchor="middle" fill="#111">0</text>
<text transform="translate(178.82,592.40) scale(1.085,1)" font-size="24.0" text-anchor="middle" fill="#111">2</text>
<text transform="translate(277.13,592.40) scale(1.085,1)" font-size="24.0" text-anchor="middle" fill="#111">4</text>
<text transform="translate(375.45,592.40) scale(1.085,1)" font-size="24.0" text-anchor="middle" fill="#111">6</text>
<text transform="translate(473.77,592.40) scale(1.085,1)" font-size="24.0" text-anchor="middle" fill="#111">8</text>
<text transform="translate(572.08,592.40) scale(1.03,1)" font-size="24.0" text-anchor="middle" fill="#111">10</text>
<text transform="translate(670.40,592.40) scale(1.03,1)" font-size="24.0" text-anchor="middle" fill="#111">12</text>
<g transform="translate(26,466.80) rotate(-90)"><text transform="translate(0.00,0.00) scale(1.188,1)" font-size="20.9" text-anchor="middle" fill="#111">Norm. Intensity</text></g>
</g>
<text transform="translate(385.90,621.70) scale(1.143,1)" font-size="23.8" text-anchor="middle" fill="#111">Depth (nm)</text>
<line x1="202.0" y1="37.8" x2="236.0" y2="37.8" stroke="#b0b3f1" stroke-width="2.1"/>
<rect x="216.46" y="33.41" width="8.77" height="8.77" fill="#b0b3f1"/>
<text transform="translate(241.00,45.20) scale(1,1.04)" font-size="22.2" text-anchor="start" fill="#111">Ta</text>
<line x1="288.1" y1="37.8" x2="325.1" y2="37.8" stroke="#4236fa" stroke-width="2.1"/>
<path d="M301.92,37.80 L306.95,32.48 L311.99,37.80 L306.95,43.12Z" fill="#4236fa"/>
<text transform="translate(326.90,45.20) scale(1,1.04)" font-size="22.2" text-anchor="start" fill="#111">Ta<tspan font-size="14.8" dy="4.2">s</tspan></text>
<line x1="374.4" y1="37.8" x2="411.09999999999997" y2="37.8" stroke="#f28dab" stroke-width="2.1"/>
<circle cx="393.25" cy="37.80" r="4.55" fill="#f28dab"/>
<text transform="translate(413.80,45.20) scale(1,1.04)" font-size="22.2" text-anchor="start" fill="#111">Ta<tspan font-size="14.8" dy="-9.0">+</tspan></text>
<line x1="461.0" y1="37.8" x2="496.0" y2="37.8" stroke="#9a1b62" stroke-width="2.1"/>
<path d="M477.85,32.50h4.00v3.30h3.30v4.00h-3.30v3.30h-4.00v-3.30h-3.30v-4.00h3.30z" fill="#9a1b62"/>
<text transform="translate(497.30,46.70) scale(1,1.04)" font-size="22.2" text-anchor="start" fill="#111">Ta<tspan font-size="14.8" dy="-8.6">2+</tspan></text>
<line x1="547.2" y1="37.8" x2="583.7" y2="37.8" stroke="#e3309c" stroke-width="2.1"/>
<path d="M561.35,39.599999999999994 L566.05,33.599999999999994 L570.75,39.599999999999994Z" fill="#e3309c"/>
<text transform="translate(584.30,46.70) scale(1,1.04)" font-size="22.2" text-anchor="start" fill="#111">Ta<tspan font-size="14.8" dy="-8.6">5+</tspan></text>
<text transform="translate(445.40,116.00) scale(1,1.04)" font-size="22.3" text-anchor="end" font-weight="bold" fill="#111">Ta oxides</text>
<text transform="translate(473.60,115.60) scale(1,1.04)" font-size="22.2" text-anchor="start" font-weight="bold" fill="#111">Thickness (h<tspan font-size="14.8" dy="4.2">ox</tspan><tspan dy="-4.2">)</tspan></text>
<text transform="translate(445.40,146.90) scale(1,1.04)" font-size="22.2" text-anchor="end" fill="#111">Ta<tspan font-size="14.8" dy="-8.8">5+</tspan></text>
<text transform="translate(445.40,175.20) scale(1,1.04)" font-size="22.2" text-anchor="end" fill="#111">Ta<tspan font-size="14.8" dy="4.2">s</tspan><tspan dy="-4.2">+Ta</tspan><tspan font-size="14.8" dy="-8.8">+</tspan><tspan dy="8.8">+Ta</tspan><tspan font-size="14.8" dy="-8.8">2+</tspan></text>
<text transform="translate(473.40,147.70) scale(1,1.04)" font-size="22.4" text-anchor="start" fill="#111">1.79±0.06 nm</text>
<text transform="translate(473.40,176.20) scale(1,1.04)" font-size="22.4" text-anchor="start" fill="#111">1.34±0.10 nm</text>
<text transform="translate(445.40,424.30) scale(1,1.04)" font-size="22.3" text-anchor="end" font-weight="bold" fill="#111">Ta oxides</text>
<text transform="translate(473.60,425.00) scale(1,1.04)" font-size="22.2" text-anchor="start" font-weight="bold" fill="#111">Thickness (h<tspan font-size="14.8" dy="4.2">ox</tspan><tspan dy="-4.2">)</tspan></text>
<text transform="translate(445.40,455.20) scale(1,1.04)" font-size="22.2" text-anchor="end" fill="#111">Ta<tspan font-size="14.8" dy="-8.8">5+</tspan></text>
<text transform="translate(445.40,483.50) scale(1,1.04)" font-size="22.2" text-anchor="end" fill="#111">Ta<tspan font-size="14.8" dy="4.2">s</tspan><tspan dy="-4.2">+Ta</tspan><tspan font-size="14.8" dy="-8.8">+</tspan><tspan dy="8.8">+Ta</tspan><tspan font-size="14.8" dy="-8.8">2+</tspan></text>
<text transform="translate(471.00,453.90) scale(1,1.04)" font-size="22.4" text-anchor="start" fill="#111">2.10±0.09 nm</text>
<text transform="translate(471.00,481.80) scale(1,1.04)" font-size="22.4" text-anchor="start" fill="#111">2.24±0.12 nm</text>
<text x="10.6" y="18.6" font-size="25.0" textLength="61.0" lengthAdjust="spacingAndGlyphs" fill="#111" stroke="#111" stroke-width="0.3">(a) HT</text>
<text x="10.4" y="333.0" font-size="23.6" textLength="60.6" lengthAdjust="spacingAndGlyphs" fill="#111" stroke="#111" stroke-width="0.3">(b) RT</text>
<text x="0.2" y="645.7" font-size="23.6" textLength="60.0" lengthAdjust="spacingAndGlyphs" fill="#111" stroke="#111" stroke-width="0.3">(c) HT</text>
<text x="10.4" y="848.7" font-size="23.6" textLength="60.6" lengthAdjust="spacingAndGlyphs" fill="#111" stroke="#111" stroke-width="0.3">(d) RT</text>
<rect x="18.5" y="668.0" width="248.60000000000002" height="140.20000000000005" fill="#000"/>
<g clip-path="url(#cL1)">
<path d="M8.0,687.7 L20.0,687.7 L40.0,688.0 L52.0,688.2 L59.5,690.4 L66.0,689.0 L71.0,687.6 L80.0,685.5 L90.0,684.2 L100.0,685.0 L109.0,685.8 L125.0,685.2 L143.0,684.9 L155.0,684.9 L155.0,830.0 L143.0,830.0 L125.0,830.0 L109.0,830.0 L100.0,830.0 L90.0,830.0 L80.0,830.0 L71.0,830.0 L66.0,830.0 L59.5,830.0 L52.0,830.0 L40.0,830.0 L20.0,830.0 L8.0,830.0Z" fill="#5c5c1a" filter="url(#b3)"/>
<path d="M8.0,724.7 L30.0,724.7 L52.0,724.9 L59.5,725.7 L70.0,724.5 L80.0,723.0 L90.0,722.0 L100.0,723.0 L109.0,723.8 L125.0,723.2 L143.0,722.8 L155.0,722.8 L155.0,830.0 L143.0,830.0 L125.0,830.0 L109.0,830.0 L100.0,830.0 L90.0,830.0 L80.0,830.0 L70.0,830.0 L59.5,830.0 L52.0,830.0 L30.0,830.0 L8.0,830.0Z" fill="#ecfc3c" filter="url(#b15)"/>
</g>
<g clip-path="url(#cL2)">
<rect x="144.4" y="668.0" width="122.70000000000002" height="24" fill="#072020"/>
<path d="M134.0,678.5 L150.0,678.5 L162.0,678.6 L175.0,679.6 L185.0,681.0 L195.0,679.2 L208.0,677.6 L222.0,676.4 L234.0,677.2 L242.0,677.2 L252.0,676.0 L262.0,675.4 L277.0,675.2 L277.0,684.2 L262.0,684.4 L252.0,685.0 L242.0,686.2 L234.0,686.2 L222.0,685.4 L208.0,686.6 L195.0,688.2 L185.0,690.0 L175.0,688.6 L162.0,687.6 L150.0,687.5 L134.0,687.5Z" fill="#0e3c3c" filter="url(#b3)" opacity="0.9"/>
<path d="M134.0,687.5 L150.0,687.5 L162.0,687.6 L175.0,688.6 L185.0,690.0 L195.0,688.2 L208.0,686.6 L222.0,685.4 L234.0,686.2 L242.0,686.2 L252.0,685.0 L262.0,684.4 L277.0,684.2 L277.0,721.0 L262.0,721.2 L250.0,722.0 L238.5,723.0 L230.0,722.4 L219.0,721.0 L210.0,721.6 L198.0,723.2 L185.0,725.0 L170.0,723.8 L150.0,723.3 L134.0,723.3Z" fill="#78f9f6" filter="url(#b2)"/>
</g>
<rect x="16.45" y="666.2" width="252.65" height="144.0" fill="none" stroke="#96e158" stroke-width="4.5"/>
<text x="152.6" y="715.2" font-size="24" textLength="16.6" lengthAdjust="spacingAndGlyphs" fill="#000">O</text>
<text x="110.6" y="801.2" font-size="23.6" textLength="23.7" lengthAdjust="spacingAndGlyphs" fill="#000">Ta</text>
<text x="152.7" y="790.9" font-size="23" textLength="47.9" lengthAdjust="spacingAndGlyphs" fill="#fff">5 nm</text>
<rect x="153.4" y="797.9" width="34.6" height="4.1" fill="#fff"/>
<g clip-path="url(#cT1)">
<rect x="273.6" y="664.0" width="148.39999999999998" height="148.14999999999998" fill="#dcdcdc"/>
<rect x="273.6" y="747" width="148.39999999999998" height="65.14999999999998" fill="#c3c3c3"/>
<rect x="273.6" y="747" width="112" height="13" fill="#cfcfcf" filter="url(#b1)"/>
<rect x="273.6" y="760" width="148.39999999999998" height="52.14999999999998" fill="url(#hl)"/>
<path d="M382.6,744 L430,744 L430,797.8 L395.2,797.8 L384.2,764 Z" fill="#d9d9d9" filter="url(#b1)"/>
<path d="M268.6,687.6 L345.6,687.6 L383.0,745.0 Q384,748.2 380,748.2 L268.6,748.2 Z" fill="url(#gF1)" filter="url(#b1)"/>
<path d="M268.6,687.6 L345.6,687.6 L383.0,745.0 Q384,748.2 380,748.2 L268.6,748.2 Z" fill="#000" filter="url(#nz2)" opacity="0.5"/>
<rect x="273.6" y="664.0" width="148.39999999999998" height="148.14999999999998" fill="#000" filter="url(#nz1)" opacity="0.10"/>
</g>
<rect x="275.7" y="776.9" width="71.5" height="26.8" fill="#000"/>
<text x="279.0" y="797.8" font-size="23.2" textLength="71.6" lengthAdjust="spacingAndGlyphs" fill="#fff">100 nm</text>
<rect x="275.6" y="805.7" width="58.2" height="4.6" fill="#fff" stroke="#222" stroke-width="0.9"/>
<rect x="306.35" y="675.1" width="22.6" height="25.6" fill="none" stroke="#96e158" stroke-width="4.5"/>
<rect x="270" y="673.0" width="36" height="3.7" fill="#96e158"/>
<rect x="306.2" y="734.2" width="22.6" height="25.5" fill="none" stroke="#8eaee0" stroke-width="4.3"/>
<rect x="329" y="757.8" width="97" height="4.0" fill="#8eaee0"/>
<rect x="428.5" y="667.0" width="122.89999999999998" height="141.10000000000002" fill="url(#gTa1)"/>
<rect x="551.4" y="667.0" width="122.80000000000007" height="141.10000000000002" fill="url(#gSi1)"/>
<rect x="426.4" y="665.1" width="249.7" height="144.75" fill="none" stroke="#8eaee0" stroke-width="4.3"/>
<text x="523.2" y="689.8" font-size="23.6" textLength="22.0" lengthAdjust="spacingAndGlyphs" fill="#000">Ta</text>
<text x="564.0" y="801.6" font-size="23.6" textLength="16.0" lengthAdjust="spacingAndGlyphs" fill="#ffe4ff">Si</text>
<text x="437.5" y="790.3" font-size="23" textLength="48.5" lengthAdjust="spacingAndGlyphs" fill="#fff">5 nm</text>
<rect x="438.0" y="797.3" width="34.6" height="4.0" fill="#fff"/>
<rect x="18.5" y="870.6" width="248.60000000000002" height="221.60000000000002" fill="#000"/>
<g clip-path="url(#dL1)">
<path d="M10,884 L33,884 L50,880 L61,876.5 L75,878 L90,886 L100,889 L115,889 L128,887 L137,881 L150,879 L150,1100 L10,1100Z" fill="#5f6219" filter="url(#b3)"/>
<path d="M10,921 L30,921 L45,918.5 L61,914 L72,915 L80,918.5 L90,926.5 L99,933.5 L112,936 L125,934.5 L135,928.5 L150,923.5 L150,1100 L10,1100Z" fill="#e0ea3a" filter="url(#b5)"/>
<path d="M95,925 L110,925 L107,1080 L97,1080Z" fill="url(#gStk)" filter="url(#b3)"/>
<rect x="18.5" y="870.6" width="124.4" height="221.60000000000002" fill="#505800" filter="url(#nzY)" opacity="0.11"/>
</g>
<g clip-path="url(#dL2)">
<rect x="142.9" y="870.6" width="124.20000000000002" height="221.60000000000002" fill="#14504a"/>
<rect x="142.9" y="870.6" width="124.20000000000002" height="221.60000000000002" fill="#000" filter="url(#nzC)" opacity="1"/>
<rect x="137.9" y="864.6" width="134.20000000000002" height="13" fill="#000" filter="url(#b3)"/>
<path d="M215,915 L241,915 L238,1098 L218,1098Z" fill="#2f8580" filter="url(#b5)" opacity="0.45"/>
<path d="M221,920 L236,920 L233.5,1098 L223,1098Z" fill="url(#gCs)" filter="url(#b3)"/>
<path d="M135.0,885.0 L160.0,885.0 L175.0,882.8 L188.0,880.3 L200.0,884.0 L210.0,891.5 L217.0,895.5 L226.0,894.2 L236.0,890.5 L250.0,885.0 L265.0,880.0 L275.0,878.0 L275.0,931.0 L266.0,936.5 L256.0,943.5 L248.0,948.5 L241.0,950.5 L234.0,949.0 L226.0,945.0 L216.0,938.5 L208.0,932.5 L198.0,929.5 L190.0,930.5 L178.0,933.0 L160.0,937.0 L135.0,937.0Z" fill="#1d625e" filter="url(#b5)" opacity="0.9"/>
<path d="M135.0,885.0 L160.0,885.0 L175.0,882.8 L188.0,880.3 L200.0,884.0 L210.0,891.5 L217.0,895.5 L226.0,894.2 L236.0,890.5 L250.0,885.0 L265.0,880.0 L275.0,878.0 L275.0,917.0 L266.0,922.5 L256.0,929.5 L248.0,934.5 L241.0,936.5 L234.0,935.0 L226.0,931.0 L216.0,924.5 L208.0,918.5 L198.0,915.5 L190.0,916.5 L178.0,919.0 L160.0,923.0 L135.0,923.0Z" fill="#38a09c" filter="url(#b3)" opacity="0.8"/>
<path d="M135.0,860.0 L160.0,860.0 L175.0,860.0 L188.0,860.0 L200.0,860.0 L210.0,860.0 L217.0,860.0 L226.0,860.0 L236.0,860.0 L250.0,860.0 L265.0,860.0 L275.0,860.0 L275.0,876.0 L265.0,878.0 L250.0,883.0 L236.0,888.5 L226.0,892.2 L217.0,893.5 L210.0,889.5 L200.0,882.0 L188.0,878.3 L175.0,880.8 L160.0,883.0 L135.0,883.0Z" fill="#000" filter="url(#b3)"/>
<path d="M135.0,885.0 L160.0,885.0 L175.0,882.8 L188.0,880.3 L200.0,884.0 L210.0,891.5 L217.0,895.5 L226.0,894.2 L236.0,890.5 L250.0,885.0 L265.0,880.0 L275.0,878.0 L275.0,911.0 L266.0,916.5 L256.0,923.5 L248.0,928.5 L241.0,930.5 L234.0,929.0 L226.0,925.0 L216.0,918.5 L208.0,912.5 L198.0,909.5 L190.0,910.5 L178.0,913.0 L160.0,917.0 L135.0,917.0Z" fill="#78f9f6" filter="url(#b25)"/>
</g>
<rect x="16.45" y="868.5" width="252.6" height="225.45" fill="none" stroke="#96e158" stroke-width="4.5"/>
<text x="151.0" y="913.4" font-size="24" textLength="16.2" lengthAdjust="spacingAndGlyphs" fill="#000">O</text>
<text x="109.8" y="1078.4" font-size="23.6" textLength="22.4" lengthAdjust="spacingAndGlyphs" fill="#000">Ta</text>
<rect x="145.1" y="1049.8" width="59.2" height="31.0" fill="#000"/>
<text x="152.6" y="1072.4" font-size="22.6" textLength="48.3" lengthAdjust="spacingAndGlyphs" fill="#fff">5 nm</text>
<rect x="155.9" y="1081.6" width="34.7" height="4.2" fill="#fff"/>
<g clip-path="url(#dT1)">
<rect x="273.4" y="865.9" width="148.5" height="147.70000000000005" fill="#dedede"/>
<rect x="273.4" y="953" width="148.5" height="60.60000000000002" fill="#cccccc"/>
<rect x="273.4" y="954" width="148.5" height="59.60000000000002" fill="url(#hl)"/>
<path d="M373,950 L430,950 L430,992.5 L389,992.5 Q380,990.5 377.5,974 Z" fill="#dcdcdc" filter="url(#b15)"/>
<path d="M268,892.3 Q300,890.8 330,892 Q352,890.6 361,892.3 Q366.5,893.5 368.5,903 L374.8,947 Q375.3,954.8 369,954.8 L268,954.8Z" fill="url(#gF2)" filter="url(#b1)"/>
<path d="M268,892.3 Q300,890.8 330,892 Q352,890.6 361,892.3 Q366.5,893.5 368.5,903 L374.8,947 Q375.3,954.8 369,954.8 L268,954.8Z" fill="#000" filter="url(#nzV2)" opacity="0.55"/>
<path d="M268,892.3 Q300,890.8 330,892 Q352,890.6 361,892.3 Q366.5,893.5 368.5,903 L374.8,947 Q375.3,954.8 369,954.8 L268,954.8Z" fill="#fff" filter="url(#nzV)" opacity="0.10"/>
<rect x="273.4" y="865.9" width="148.5" height="147.70000000000005" fill="#000" filter="url(#nz1)" opacity="0.10"/>
</g>
<rect x="275.5" y="979.0" width="71.7" height="26.2" fill="#000"/>
<text x="278.6" y="999.5" font-size="23.4" textLength="72.2" lengthAdjust="spacingAndGlyphs" fill="#fff">100 nm</text>
<rect x="275.4" y="1007.5" width="58.4" height="4.8" fill="#fff" stroke="#2a2a2a" stroke-width="0.9"/>
<rect x="306.3" y="878.8" width="22.5" height="25.6" fill="none" stroke="#96e158" stroke-width="4.4"/>
<rect x="270" y="876.6" width="36" height="3.9" fill="#96e158"/>
<rect x="306.4" y="941.5" width="22.3" height="25.0" fill="none" stroke="#8eaee0" stroke-width="4.2"/>
<rect x="329" y="964.8" width="97" height="3.8" fill="#8eaee0"/>
<rect x="427.0" y="869.8" width="248.20000000000005" height="142.4000000000001" fill="#000"/>
<rect x="428.0" y="870.8" width="81.60000000000002" height="140.4000000000001" fill="url(#gTa2)"/>
<g clip-path="url(#dR2)">
<rect x="508.6" y="946" width="84.79999999999995" height="60" fill="url(#gNbf)"/>
<path d="M497.6,903.8 Q551.0,915.5 604.4,903.8 L604.4,952 L497.6,952Z" fill="#fff" filter="url(#b3)"/>
</g>
<rect x="592.4" y="870.8" width="81.80000000000007" height="140.4000000000001" fill="url(#gSi2)"/>
<rect x="592.1" y="870.8" width="0.7" height="140.4000000000001" fill="#444"/>
<rect x="426.1" y="869.0" width="250.0" height="143.95" fill="none" stroke="#8eaee0" stroke-width="4.1"/>
<text x="481.2" y="893.3" font-size="23.6" textLength="22.6" lengthAdjust="spacingAndGlyphs" fill="#000">Ta</text>
<text x="533.0" y="937.8" font-size="23.6" textLength="29.8" lengthAdjust="spacingAndGlyphs" fill="#000">Nb</text>
<text x="599.8" y="1003.2" font-size="24.0" textLength="17.1" lengthAdjust="spacingAndGlyphs" fill="#ffe4ff">Si</text>
<text x="434.6" y="995.0" font-size="23" textLength="48.2" lengthAdjust="spacingAndGlyphs" fill="#fff">5 nm</text>
<rect x="434.7" y="1001.5" width="34.7" height="4.2" fill="#fff"/>
</svg></body></html>
